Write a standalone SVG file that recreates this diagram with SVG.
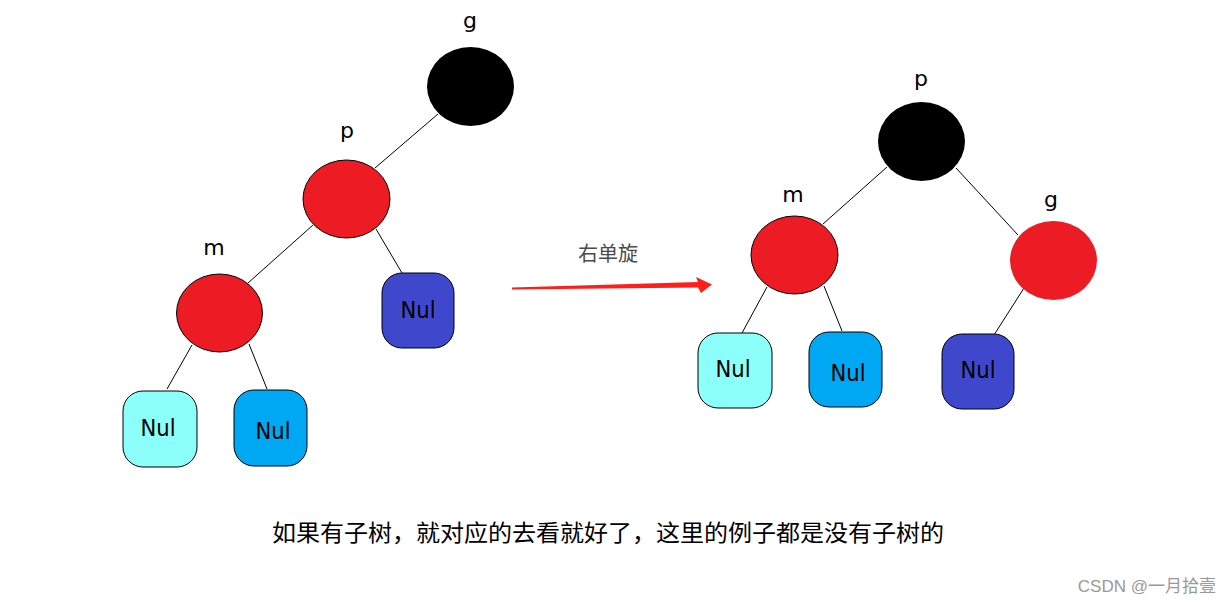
<svg xmlns="http://www.w3.org/2000/svg" width="1231" height="606" viewBox="0 0 1231 606">
<style>
.lbl{font-family:"DejaVu Sans","Liberation Sans",sans-serif;font-size:22px;fill:#000;text-anchor:middle}
.nul{font-family:"DejaVu Sans","Liberation Sans",sans-serif;font-size:23px;fill:#000;text-anchor:middle}
.edge{stroke:#000;stroke-width:1;fill:none}
.blk{fill:#000}
.red{fill:#ED1C24;stroke:#000;stroke-width:1}
.cyan{fill:#8CFFFA;stroke:#000;stroke-width:1}
.sky{fill:#00A8F3;stroke:#000;stroke-width:1}
.ind{fill:#3F48CC;stroke:#000;stroke-width:1}
</style>
<rect width="1231" height="606" fill="#fff"/>
<g id="connectors">
<line class="edge" x1="438" y1="114" x2="375" y2="168"/>
<line class="edge" x1="313" y1="225" x2="248" y2="283"/>
<line class="edge" x1="376" y1="229" x2="402" y2="273"/>
<line class="edge" x1="192" y1="345" x2="167" y2="389"/>
<line class="edge" x1="249" y1="344" x2="267" y2="389"/>
<line class="edge" x1="887" y1="167" x2="823" y2="224"/>
<line class="edge" x1="956" y1="168" x2="1018" y2="235"/>
<line class="edge" x1="767" y1="287" x2="742" y2="333"/>
<line class="edge" x1="824" y1="286" x2="842" y2="331"/>
<line class="edge" x1="1024" y1="288" x2="994" y2="335"/>
<polygon fill="#FF1F1A" points="512,287.5 698,282 696,277 712,284.5 701,293 698,287.5 512,289.5"/>
</g>
<g id="L_g"><ellipse class="blk" cx="470.5" cy="86.5" rx="43.5" ry="39.5"/><text class="lbl" x="470" y="28">g</text></g>
<g id="L_p"><ellipse class="red" cx="346.5" cy="199" rx="43.5" ry="39"/><text class="lbl" x="347" y="138">p</text></g>
<g id="L_m"><ellipse class="red" cx="219.5" cy="313" rx="43" ry="39"/><text class="lbl" x="214" y="255">m</text></g>
<g id="L_nul1"><rect class="cyan" x="123" y="391" width="74" height="76" rx="20"/><text class="nul" x="158" y="436" textLength="35" lengthAdjust="spacingAndGlyphs">Nul</text></g>
<g id="L_nul2"><rect class="sky" x="234" y="390" width="73" height="76" rx="20"/><text class="nul" x="273" y="439" textLength="35" lengthAdjust="spacingAndGlyphs">Nul</text></g>
<g id="L_nul3"><rect class="ind" x="382" y="273" width="72" height="75" rx="20"/><text class="nul" x="418" y="318" textLength="35" lengthAdjust="spacingAndGlyphs">Nul</text></g>
<g id="arrow_label"><text x="608" y="261" text-anchor="middle" font-family="'Noto Sans CJK SC',sans-serif" font-size="20" fill="#4a4a4a">右单旋</text></g>
<g id="R_p"><ellipse class="blk" cx="921.5" cy="141.5" rx="43.5" ry="39.5"/><text class="lbl" x="921" y="86">p</text></g>
<g id="R_m"><ellipse class="red" cx="794.5" cy="255" rx="43.5" ry="39"/><text class="lbl" x="793" y="202">m</text></g>
<g id="R_g"><ellipse fill="#ED1C24" cx="1053.5" cy="260.5" rx="43.5" ry="39.5"/><text class="lbl" x="1051" y="207">g</text></g>
<g id="R_nul1"><rect class="cyan" x="698" y="333" width="74" height="75" rx="20"/><text class="nul" x="733" y="377" textLength="35" lengthAdjust="spacingAndGlyphs">Nul</text></g>
<g id="R_nul2"><rect class="sky" x="809" y="332" width="73" height="75" rx="20"/><text class="nul" x="848" y="381" textLength="35" lengthAdjust="spacingAndGlyphs">Nul</text></g>
<g id="R_nul3"><rect class="ind" x="942" y="334" width="72" height="75" rx="20"/><text class="nul" x="978" y="378" textLength="35" lengthAdjust="spacingAndGlyphs">Nul</text></g>
<g id="caption"><text x="272" y="541" font-family="'Noto Sans CJK SC',sans-serif" font-size="23" fill="#000" textLength="672" lengthAdjust="spacingAndGlyphs">如果有子树，就对应的去看就好了，这里的例子都是没有子树的</text></g>
<g id="watermark"><text x="1216" y="592" text-anchor="end" font-family="'Liberation Sans','Noto Sans CJK SC',sans-serif" font-size="17" fill="#999">CSDN @一月拾壹</text></g>
</svg>
